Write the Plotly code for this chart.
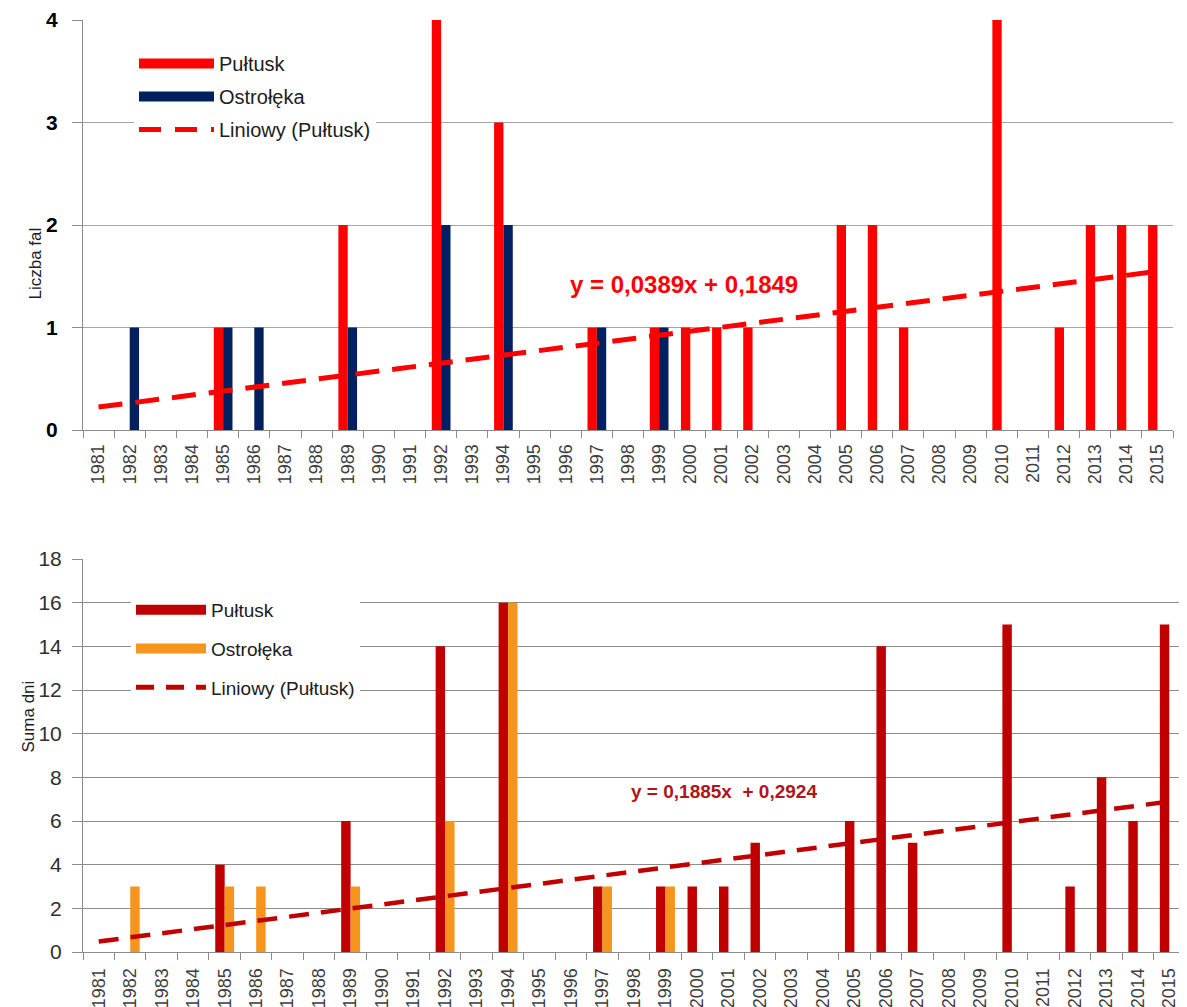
import numpy as np
import plotly.graph_objects as go

years = [str(y) for y in range(1981, 2016)]

# Liczba fal (number of waves)
fal_pultusk = {1985: 1, 1989: 2, 1992: 4, 1994: 3, 1997: 1, 1999: 1, 2000: 1, 2001: 1,
               2002: 1, 2005: 2, 2006: 2, 2007: 1, 2010: 4, 2012: 1, 2013: 2, 2014: 2, 2015: 2}
fal_ostroleka = {1982: 1, 1985: 1, 1986: 1, 1989: 1, 1992: 2, 1994: 2, 1997: 1, 1999: 1}

# Suma dni (sum of days)
dni_pultusk = {1985: 4, 1989: 6, 1992: 14, 1994: 16, 1997: 3, 1999: 3, 2000: 3, 2001: 3,
               2002: 5, 2005: 6, 2006: 14, 2007: 5, 2010: 15, 2012: 3, 2013: 8, 2014: 6, 2015: 15}
dni_ostroleka = {1982: 3, 1985: 3, 1986: 3, 1989: 3, 1992: 6, 1994: 16, 1997: 3, 1999: 3}

top_ticks = [0, 1, 2, 3, 4]
bot_ticks = [0, 2, 4, 6, 8, 10, 12, 14, 16, 18]


def series(d):
    return [d.get(int(y), 0) for y in years]


fp, fo = series(fal_pultusk), series(fal_ostroleka)
dp, do = series(dni_pultusk), series(dni_ostroleka)

idx = np.arange(1, len(years) + 1)
a1, b1 = np.polyfit(idx, fp, 1)
a2, b2 = np.polyfit(idx, dp, 1)
trend1 = a1 * idx + b1
trend2 = a2 * idx + b2

RED = "#FF0000"
NAVY = "#002060"
DRED = "#C00000"
ORANGE = "#F7941D"
GRID = "#A6A6A6"
FONT = "Liberation Sans, Arial, sans-serif"

fig = go.Figure()

# top chart
fig.add_trace(go.Bar(x=years, y=fp, marker=dict(color=RED, line=dict(width=0)),
                     xaxis="x", yaxis="y", showlegend=False, name="Pułtusk"))
fig.add_trace(go.Bar(x=years, y=fo, marker=dict(color=NAVY, line=dict(width=0)),
                     xaxis="x", yaxis="y", showlegend=False, name="Ostrołęka"))
fig.add_trace(go.Scatter(x=years, y=trend1, mode="lines", xaxis="x", yaxis="y",
                         line=dict(color=RED, width=5, dash="24px,13px"), showlegend=False,
                         name="Liniowy (Pułtusk)"))
# legend entries top
fig.add_trace(go.Scatter(x=[None], y=[None], mode="lines", xaxis="x", yaxis="y",
                         line=dict(color=RED, width=12), name="Pułtusk", legend="legend",
                         legendgroup="a"))
fig.add_trace(go.Scatter(x=[None], y=[None], mode="lines", xaxis="x", yaxis="y",
                         line=dict(color=NAVY, width=12), name="Ostrołęka", legend="legend",
                         legendgroup="b"))
fig.add_trace(go.Scatter(x=[None], y=[None], mode="lines", xaxis="x", yaxis="y",
                         line=dict(color=RED, width=5, dash="22px,14px"), name="Liniowy (Pułtusk)",
                         legend="legend", legendgroup="c"))

# bottom chart
fig.add_trace(go.Bar(x=years, y=dp, marker=dict(color=DRED, line=dict(width=0)),
                     xaxis="x2", yaxis="y2", showlegend=False, name="Pułtusk"))
fig.add_trace(go.Bar(x=years, y=do, marker=dict(color=ORANGE, line=dict(width=0)),
                     xaxis="x2", yaxis="y2", showlegend=False, name="Ostrołęka"))
fig.add_trace(go.Scatter(x=years, y=trend2, mode="lines", xaxis="x2", yaxis="y2",
                         line=dict(color=DRED, width=4.5, dash="20px,12px"), showlegend=False,
                         name="Liniowy (Pułtusk)"))
fig.add_trace(go.Scatter(x=[None], y=[None], mode="lines", xaxis="x2", yaxis="y2",
                         line=dict(color=DRED, width=11), name="Pułtusk", legend="legend2",
                         legendgroup="a2"))
fig.add_trace(go.Scatter(x=[None], y=[None], mode="lines", xaxis="x2", yaxis="y2",
                         line=dict(color=ORANGE, width=11), name="Ostrołęka", legend="legend2",
                         legendgroup="b2"))
fig.add_trace(go.Scatter(x=[None], y=[None], mode="lines", xaxis="x2", yaxis="y2",
                         line=dict(color=DRED, width=5, dash="18px,12px"), name="Liniowy (Pułtusk)",
                         legend="legend2", legendgroup="c2"))

# page has an 8px body margin; work in page pixels and convert
OFF = 8
W, H = 1187 - OFF, 1007 - OFF


def px_x(p):
    return (p - OFF) / W


def px_y(p):
    return 1 - (p - OFF) / H


common_x = dict(type="category", categoryorder="array", categoryarray=years,
                tickangle=-90, showgrid=False, showline=True, linecolor="#8C8C8C", linewidth=1,
                ticks="outside", tickson="boundaries", tickcolor="#8C8C8C", ticklen=7,
                automargin=False, fixedrange=True)

fig.update_layout(
    width=W, height=H,
    margin=dict(l=0, r=0, t=0, b=0),
    paper_bgcolor="white", plot_bgcolor="white",
    barmode="group", bargap=0.4, bargroupgap=0,
    font=dict(family=FONT, color="#000000"),
    xaxis=dict(common_x, domain=[px_x(83), px_x(1173)], anchor="y", ticklabelstandoff=6,
               tickfont=dict(size=18, color="#404040", family=FONT)),
    yaxis=dict(domain=[px_y(430), px_y(20)], range=[0, 4], tickvals=top_ticks,
               anchor="x", showgrid=True, gridcolor=GRID, gridwidth=1,
               showline=True, linecolor="#8C8C8C", linewidth=1, ticks="outside",
               tickcolor="#8C8C8C", ticklen=10, ticklabelstandoff=10,
               tickfont=dict(size=21, color="#000000", family=FONT, weight="bold"),
               zeroline=False, automargin=False),
    xaxis2=dict(common_x, domain=[px_x(83), px_x(1185)], anchor="y2", ticklabelstandoff=8,
                tickfont=dict(size=18, color="#404040", family=FONT)),
    yaxis2=dict(domain=[px_y(952), px_y(559)], range=[0, 18], tickvals=bot_ticks,
                anchor="x2", showgrid=True, gridcolor="#8C8C8C", gridwidth=1,
                showline=True, linecolor="#8C8C8C", linewidth=1, ticks="outside",
                tickcolor="#8C8C8C", ticklen=10, ticklabelstandoff=6,
                tickfont=dict(size=21, color="#303030", family=FONT),
                zeroline=False, automargin=False),
    legend=dict(x=px_x(134), y=px_y(44), xanchor="left", yanchor="top",
                bgcolor="white", font=dict(size=20, color="#202020", family=FONT),
                itemwidth=75, traceorder="grouped", tracegroupgap=4,
                itemclick=False, itemdoubleclick=False),
    legend2=dict(x=px_x(131), y=px_y(591), xanchor="left", yanchor="top",
                 bgcolor="white", font=dict(size=19, color="#202020", family=FONT),
                 itemwidth=70, traceorder="grouped", tracegroupgap=11,
                 itemclick=False, itemdoubleclick=False),
    annotations=[
        dict(text="Liczba fal", x=px_x(24), y=px_y(226), xref="paper", yref="paper",
             textangle=-90, showarrow=False, font=dict(size=17, color="#202020", family=FONT)),
        dict(text="Suma dni", x=px_x(16), y=px_y(755), xref="paper", yref="paper",
             textangle=-90, showarrow=False, font=dict(size=17, color="#202020", family=FONT)),
        dict(text="y = 0,0389x + 0,1849", x=px_x(684), y=px_y(269), xref="paper", yref="paper",
             showarrow=False, font=dict(size=24, color=RED, family=FONT, weight="bold")),
        dict(text="y = 0,1885x  + 0,2924", x=px_x(724), y=px_y(804), xref="paper", yref="paper",
             showarrow=False, font=dict(size=19, color="#B0141C", family=FONT, weight="bold")),
    ],
)

fig.write_html("out.html")
